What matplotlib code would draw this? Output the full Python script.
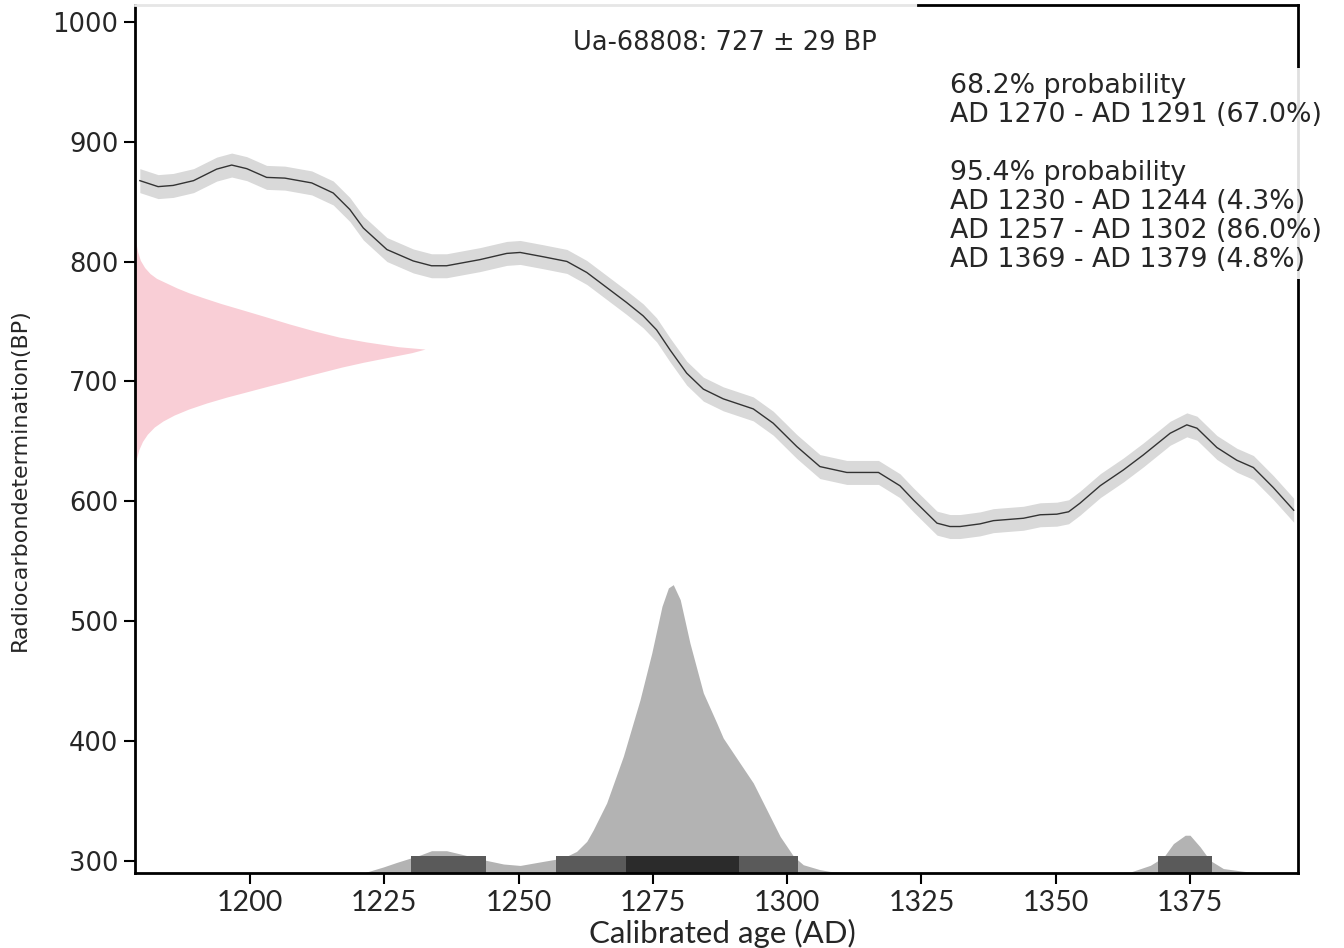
import matplotlib
matplotlib.use("Agg")
import matplotlib.pyplot as plt

plt.rcParams["font.family"] = ["DejaVu Sans"]

# calibration curve (AD year, BP)
CURVE_YEAR = [1179.5, 1182.9, 1185.7, 1189.5, 1193.8, 1196.6, 1199.4, 1203.1, 1206.5,
              1211.5, 1215.5, 1218.6, 1221.1, 1225.5, 1230.4, 1233.8, 1236.6, 1242.8,
              1247.8, 1250.3, 1254.6, 1259.0, 1262.7, 1266.4, 1270.1, 1273.2, 1275.7,
              1278.2, 1281.3, 1284.4, 1288.1, 1293.7, 1297.4, 1301.8, 1306.1, 1311.1,
              1317.0, 1321.0, 1323.5, 1327.9, 1330.3, 1332.2, 1335.9, 1338.4, 1344.0,
              1347.1, 1350.2, 1352.4, 1354.5, 1358.3, 1362.6, 1366.3, 1371.3, 1374.4,
              1376.3, 1380.0, 1383.7, 1386.8, 1390.5, 1394.3]
CURVE_BP = [867.5, 862.5, 863.5, 867.5, 877.1, 880.5, 877.5, 870.2, 869.6,
            865.6, 857.2, 843.4, 828.0, 810.0, 800.5, 796.5, 796.5, 801.6,
            806.8, 807.6, 804.0, 800.1, 790.9, 778.4, 765.9, 754.7, 743.0,
            726.3, 706.9, 693.6, 685.5, 677.1, 665.2, 645.7, 629.0, 624.1,
            624.1, 613.0, 601.2, 581.8, 579.0, 579.0, 581.2, 583.9, 585.9,
            588.8, 589.3, 591.3, 598.4, 613.1, 626.2, 638.7, 656.8, 663.8,
            661.0, 644.9, 634.3, 628.2, 611.5, 592.6]
CURVE_ERR = 10

# measured date 727 +/- 29 BP, drawn on the y axis
PINK_BP = [824, 815, 808, 801, 795, 790, 786, 782, 778, 774, 770, 765, 760, 754,
           748, 742, 737, 733, 729, 727, 724, 720, 716, 712, 708, 704, 700, 696,
           691, 687, 682, 677, 672, 667, 662, 656, 650, 643, 636, 629]
PINK_W = [0.0, 0.2, 0.5, 1.0, 1.8, 2.8, 4.0, 5.9, 7.8, 10.0, 12.6, 16.0, 19.8, 24.3,
          28.7, 33.5, 38.0, 43.0, 49.0, 54.0, 51.5, 47.0, 42.5, 38.5, 35.0, 31.5, 28.2, 24.7,
          20.5, 17.1, 13.3, 10.0, 7.3, 5.2, 3.6, 2.3, 1.4, 0.7, 0.3, 0.0]

# calibrated probability (height above the baseline, in BP units)
PROB_YEAR = [1221.1, 1224.8, 1227.3, 1231.7, 1233.8, 1236.6, 1239.7, 1243.4, 1247.2,
             1250.3, 1254.6, 1258.3, 1260.8, 1262.7, 1263.9, 1266.4, 1269.5, 1272.6,
             1274.8, 1276.7, 1277.9, 1278.8, 1280.1, 1281.9, 1284.4, 1286.9, 1288.1,
             1291.2, 1293.7, 1296.2, 1298.7, 1301.2, 1303.0, 1306.1, 1308.0, 1315.0,
             1355.0, 1363.9, 1367.6, 1370.1, 1371.9, 1374.1, 1375.0, 1376.9, 1378.7,
             1381.2, 1385.0, 1388.7]
PROB_H = [0.0, 5.0, 8.8, 15.0, 18.6, 18.6, 15.3, 11.1, 7.5,
          6.3, 9.7, 12.5, 18.0, 26.4, 35.9, 58.4, 97.3, 144.3,
          183.5, 222.4, 237.8, 240.5, 228.0, 191.9, 150.2, 125.1, 112.6,
          91.8, 75.1, 52.8, 30.5, 13.9, 6.9, 2.8, 1.3, 0.0,
          0.0, 0.8, 6.4, 13.3, 24.5, 31.5, 31.5, 21.7, 10.6,
          3.7, 1.4, 0.0]

RANGES_68 = [(1270, 1291)]
RANGES_95 = [(1230, 1244), (1257, 1302), (1369, 1379)]

TITLE = "Ua-68808: 727 \u00b1 29 BP"
SUMMARY = ("68.2% probability\n"
           "AD 1270 - AD 1291 (67.0%)\n"
           "\n"
           "95.4% probability\n"
           "AD 1230 - AD 1244 (4.3%)\n"
           "AD 1257 - AD 1302 (86.0%)\n"
           "AD 1369 - AD 1379 (4.8%)")

XMIN, XMAX = 1178.6, 1395.1
YMIN, YMAX = 290, 1014
BOX_H = 14.5
TXT = "#262626"

fig = plt.figure(figsize=(13.44, 9.48), dpi=100)
ax = fig.add_axes([135 / 1344, 1 - 873 / 948, 1163 / 1344, 868 / 948])

lo = [b - CURVE_ERR for b in CURVE_BP]
hi = [b + CURVE_ERR for b in CURVE_BP]
ax.fill_between(CURVE_YEAR, lo, hi, color="#d9d9d9", lw=0, zorder=1)
ax.plot(CURVE_YEAR, CURVE_BP, color="#333333", lw=1.0, zorder=2)

ax.fill_betweenx(PINK_BP, XMIN, [XMIN + w for w in PINK_W], color="#f9ced6", lw=0, zorder=1)

ax.fill_between(PROB_YEAR, YMIN, [YMIN + h for h in PROB_H], color="#b3b3b3", lw=0, zorder=1)
for a, b in RANGES_95:
    ax.fill_between([a, b], YMIN, YMIN + BOX_H, color="#5a5a5a", lw=0, zorder=1.5)
for a, b in RANGES_68:
    ax.fill_between([a, b], YMIN, YMIN + BOX_H, color="#2b2b2b", lw=0, zorder=1.6)

ax.set_xlim(XMIN, XMAX)
ax.set_ylim(YMIN, YMAX)
ax.set_xticks([1200, 1225, 1250, 1275, 1300, 1325, 1350, 1375])
ax.set_yticks([300, 400, 500, 600, 700, 800, 900, 1000])

for side in ["left", "bottom", "right"]:
    ax.spines[side].set_linewidth(2)
    ax.spines[side].set_color("black")
ax.spines["top"].set_visible(False)
ax.plot([0, 0.673], [1, 1], transform=ax.transAxes, color="#e6e6e6", lw=2, clip_on=False, zorder=3)
ax.plot([0.673, 1], [1, 1], transform=ax.transAxes, color="black", lw=2, clip_on=False, zorder=3)

ax.tick_params(axis="both", length=8, width=1.5, color="black", labelcolor=TXT)
ax.tick_params(axis="y", labelsize=18.5, pad=4)
ax.tick_params(axis="x", labelsize=20.5, pad=4)
for lab in ax.get_xticklabels():
    lab.set_family("Lato")

ax.text(0.507, 0.956, TITLE, transform=ax.transAxes, ha="center", va="center",
        fontsize=18.5, color=TXT)
ax.text(0.7008, 0.9215, SUMMARY, transform=ax.transAxes, ha="left", va="top",
        fontsize=19.3, color=TXT, linespacing=1.15, zorder=4,
        bbox=dict(facecolor="white", alpha=0.88, edgecolor="none", pad=4))

fig.text(20 / 1344, 1 - 480 / 948, "Radiocarbondetermination(BP)", rotation=90,
         ha="center", va="center", fontsize=16, color=TXT)
fig.text(722 / 1344, 1 - 933 / 948, "Calibrated age (AD)", ha="center", va="center",
         fontsize=22.5, color=TXT, family="Lato")

fig.savefig("out.png", dpi=100)
